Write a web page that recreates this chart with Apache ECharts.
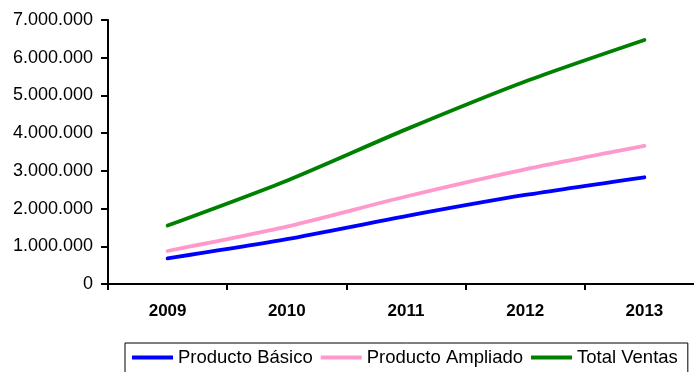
<!DOCTYPE html>
<html>
<head>
<meta charset="utf-8">
<script src="https://cdn.jsdelivr.net/npm/echarts@6/dist/echarts.min.js"></script>
<style>
  html, body { margin: 0; padding: 0; background: #fff; }
  #chart { width: 694px; height: 372px; }
</style>
</head>
<body>
<div id="chart"></div>
<script>
// Annual sales by product line
const years = ['2009', '2010', '2011', '2012', '2013'];
const productoBasico = [680000, 1190000, 1800000, 2360000, 2830000];
const productoAmpliado = [875000, 1520000, 2320000, 3040000, 3660000];
const totalVentas = [1550000, 2740000, 4100000, 5370000, 6470000];
const yTicks = [0, 1000000, 2000000, 3000000, 4000000, 5000000, 6000000, 7000000];

const fmt = v => v === 0 ? '0' : String(v).replace(/\B(?=(\d{3})+(?!\d))/g, '.');

const chart = echarts.init(document.getElementById('chart'));
const lineSeries = (name, data, color) => ({
  name, type: 'line', data, smooth: 0.25, symbol: 'none',
  lineStyle: { color, width: 3.8, cap: 'round' }, itemStyle: { color }
});

chart.setOption({
  animation: false,
  grid: { left: 108, top: 20, bottom: 88, right: -10, outerBoundsMode: 'none' },
  xAxis: {
    type: 'category', data: years, boundaryGap: true,
    axisLine: { lineStyle: { color: '#000', width: 2 } },
    axisTick: { show: true, length: 6, lineStyle: { color: '#000', width: 2 } },
    axisLabel: { color: '#000', fontFamily: 'Liberation Sans, Arial', fontWeight: 'bold', fontSize: 17, margin: 19 }
  },
  yAxis: {
    type: 'value', min: yTicks[0], max: yTicks[yTicks.length - 1], interval: 1000000,
    axisLine: { show: true, lineStyle: { color: '#000', width: 2 } },
    axisTick: { show: true, length: 7, lineStyle: { color: '#000', width: 2 } },
    splitLine: { show: false },
    axisLabel: { color: '#000', fontFamily: 'Liberation Sans, Arial', fontSize: 18, margin: 15, formatter: fmt }
  },
  legend: {
    left: 125, top: 343,
    padding: [5, 10, 12, 7],
    borderColor: '#000', borderWidth: 1,
    itemWidth: 41, itemHeight: 3.8, itemGap: 8, icon: 'rect',
    textStyle: { color: '#000', fontFamily: 'Liberation Sans, Arial', fontSize: 18.5 }
  },
  series: [
    lineSeries('Producto Básico', productoBasico, '#0000FF'),
    lineSeries('Producto Ampliado', productoAmpliado, '#FF99CC'),
    lineSeries('Total Ventas', totalVentas, '#008000')
  ]
});
</script>
</body>
</html>
